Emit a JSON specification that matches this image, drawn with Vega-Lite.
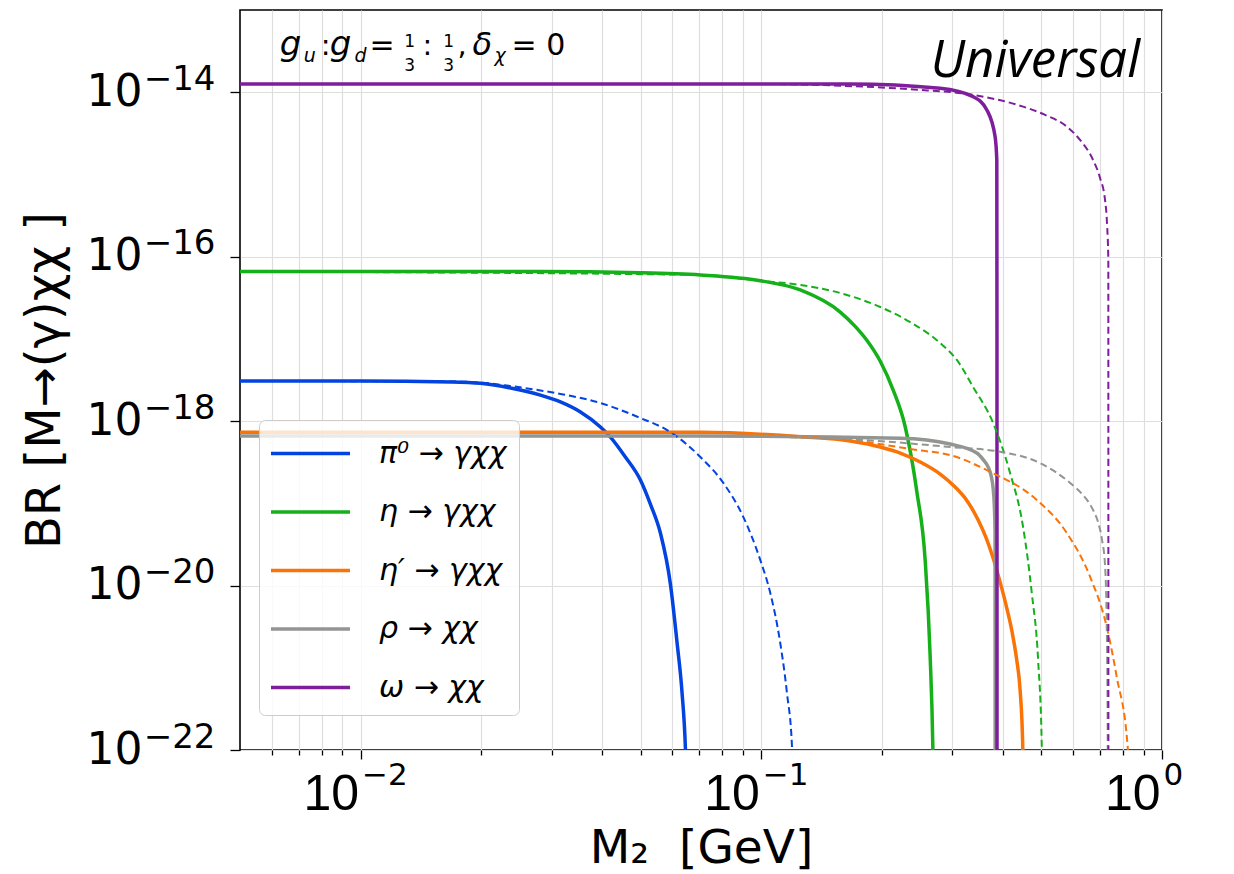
{
 "$schema": "https://vega.github.io/schema/vega-lite/v6.json",
 "width": 922, "height": 740,
 "autosize": {"type": "none"},
 "padding": {"left": 240, "top": 10, "right": 72, "bottom": 124},
 "background": "white",
 "config": {"view": {"stroke": "black", "strokeWidth": 1.6}},
 "resolve": {"axis": {"x": "independent", "y": "independent"}},
 "data": {"values": [
  {"s":"π⁰ → γχχ","d":"solid","M":0.005,"BR":3.08e-18},
  {"s":"π⁰ → γχχ","d":"solid","M":0.01,"BR":3.08e-18},
  {"s":"π⁰ → γχχ","d":"solid","M":0.0168,"BR":2.99e-18},
  {"s":"π⁰ → γχχ","d":"solid","M":0.01992,"BR":2.88e-18},
  {"s":"π⁰ → γχχ","d":"solid","M":0.02366,"BR":2.53e-18},
  {"s":"π⁰ → γχχ","d":"solid","M":0.0281,"BR":2.07e-18},
  {"s":"π⁰ → γχχ","d":"solid","M":0.03153,"BR":1.71e-18},
  {"s":"π⁰ → γχχ","d":"solid","M":0.03537,"BR":1.29e-18},
  {"s":"π⁰ → γχχ","d":"solid","M":0.03967,"BR":8.48e-19},
  {"s":"π⁰ → γχχ","d":"solid","M":0.04202,"BR":6.4e-19},
  {"s":"π⁰ → γχχ","d":"solid","M":0.04579,"BR":3.66e-19},
  {"s":"π⁰ → γχχ","d":"solid","M":0.04992,"BR":1.92e-19},
  {"s":"π⁰ → γχχ","d":"solid","M":0.05286,"BR":9.8e-20},
  {"s":"π⁰ → γχχ","d":"solid","M":0.056,"BR":4.36e-20},
  {"s":"π⁰ → γχχ","d":"solid","M":0.05932,"BR":1.04e-20},
  {"s":"π⁰ → γχχ","d":"solid","M":0.06164,"BR":2.0e-21},
  {"s":"π⁰ → γχχ","d":"solid","M":0.06343,"BR":4.9e-22},
  {"s":"π⁰ → γχχ","d":"solid","M":0.06465,"BR":1.05e-22},
  {"s":"π⁰ → γχχ","d":"solid","M":0.0655,"BR":1e-23},
  {"s":"π⁰ → γχχ","d":"dashed","M":0.005,"BR":3.08e-18},
  {"s":"π⁰ → γχχ","d":"dashed","M":0.0168,"BR":3.03e-18},
  {"s":"π⁰ → γχχ","d":"dashed","M":0.01992,"BR":2.94e-18},
  {"s":"π⁰ → γχχ","d":"dashed","M":0.02366,"BR":2.67e-18},
  {"s":"π⁰ → γχχ","d":"dashed","M":0.0281,"BR":2.36e-18},
  {"s":"π⁰ → γχχ","d":"dashed","M":0.03153,"BR":2.14e-18},
  {"s":"π⁰ → γχχ","d":"dashed","M":0.03967,"BR":1.66e-18},
  {"s":"π⁰ → γχχ","d":"dashed","M":0.04992,"BR":1.09e-18},
  {"s":"π⁰ → γχχ","d":"dashed","M":0.05932,"BR":7.36e-19},
  {"s":"π⁰ → γχχ","d":"dashed","M":0.07046,"BR":3.66e-19},
  {"s":"π⁰ → γχχ","d":"dashed","M":0.0804,"BR":1.77e-19},
  {"s":"π⁰ → γχχ","d":"dashed","M":0.0902,"BR":6.81e-20},
  {"s":"π⁰ → γχχ","d":"dashed","M":0.09943,"BR":2.04e-20},
  {"s":"π⁰ → γχχ","d":"dashed","M":0.1053,"BR":8.1e-21},
  {"s":"π⁰ → γχχ","d":"dashed","M":0.1115,"BR":2.0e-21},
  {"s":"π⁰ → γχχ","d":"dashed","M":0.1159,"BR":4.9e-22},
  {"s":"π⁰ → γχχ","d":"dashed","M":0.1193,"BR":1.08e-22},
  {"s":"π⁰ → γχχ","d":"dashed","M":0.1205,"BR":1e-23},
  {"s":"η → γχχ","d":"solid","M":0.005,"BR":6.58e-17},
  {"s":"η → γχχ","d":"solid","M":0.028,"BR":6.58e-17},
  {"s":"η → γχχ","d":"solid","M":0.0499,"BR":6.38e-17},
  {"s":"η → γχχ","d":"solid","M":0.0705,"BR":6.0e-17},
  {"s":"η → γχχ","d":"solid","M":0.0994,"BR":5.1e-17},
  {"s":"η → γχχ","d":"solid","M":0.1251,"BR":3.94e-17},
  {"s":"η → γχχ","d":"solid","M":0.1574,"BR":2.12e-17},
  {"s":"η → γχχ","d":"solid","M":0.1715,"BR":1.42e-17},
  {"s":"η → γχχ","d":"solid","M":0.1834,"BR":9.62e-18},
  {"s":"η → γχχ","d":"solid","M":0.1981,"BR":5.34e-18},
  {"s":"η → γχχ","d":"solid","M":0.2135,"BR":2.37e-18},
  {"s":"η → γχχ","d":"solid","M":0.2287,"BR":8.48e-19},
  {"s":"η → γχχ","d":"solid","M":0.2445,"BR":1.37e-19},
  {"s":"η → γχχ","d":"solid","M":0.2564,"BR":2.04e-20},
  {"s":"η → γχχ","d":"solid","M":0.2638,"BR":1.43e-21},
  {"s":"η → γχχ","d":"solid","M":0.268,"BR":1.08e-22},
  {"s":"η → γχχ","d":"solid","M":0.27,"BR":1e-23},
  {"s":"η → γχχ","d":"dashed","M":0.005,"BR":6.58e-17},
  {"s":"η → γχχ","d":"dashed","M":0.0705,"BR":6.0e-17},
  {"s":"η → γχχ","d":"dashed","M":0.0994,"BR":5.1e-17},
  {"s":"η → γχχ","d":"dashed","M":0.1251,"BR":4.53e-17},
  {"s":"η → γχχ","d":"dashed","M":0.1574,"BR":3.61e-17},
  {"s":"η → γχχ","d":"dashed","M":0.1981,"BR":2.44e-17},
  {"s":"η → γχχ","d":"dashed","M":0.2353,"BR":1.6e-17},
  {"s":"η → γχχ","d":"dashed","M":0.2795,"BR":8.89e-18},
  {"s":"η → γχχ","d":"dashed","M":0.3076,"BR":5.54e-18},
  {"s":"η → γχχ","d":"dashed","M":0.3378,"BR":2.6e-18},
  {"s":"η → γχχ","d":"dashed","M":0.3789,"BR":9.48e-19},
  {"s":"η → γχχ","d":"dashed","M":0.4177,"BR":2.34e-19},
  {"s":"η → γχχ","d":"dashed","M":0.4501,"BR":5.15e-20},
  {"s":"η → γχχ","d":"dashed","M":0.4732,"BR":8.1e-21},
  {"s":"η → γχχ","d":"dashed","M":0.4907,"BR":1.24e-21},
  {"s":"η → γχχ","d":"dashed","M":0.5012,"BR":1.08e-22},
  {"s":"η → γχχ","d":"dashed","M":0.505,"BR":1e-23},
  {"s":"η′ → γχχ","d":"solid","M":0.005,"BR":7.3e-19},
  {"s":"η′ → γχχ","d":"solid","M":0.0705,"BR":7.3e-19},
  {"s":"η′ → γχχ","d":"solid","M":0.1251,"BR":6.46e-19},
  {"s":"η′ → γχχ","d":"solid","M":0.1667,"BR":5.73e-19},
  {"s":"η′ → γχχ","d":"solid","M":0.1981,"BR":4.84e-19},
  {"s":"η′ → γχχ","d":"solid","M":0.2222,"BR":4.09e-19},
  {"s":"η′ → γχχ","d":"solid","M":0.2493,"BR":3.18e-19},
  {"s":"η′ → γχχ","d":"solid","M":0.2795,"BR":2.27e-19},
  {"s":"η′ → γχχ","d":"solid","M":0.3046,"BR":1.58e-19},
  {"s":"η′ → γχχ","d":"solid","M":0.3264,"BR":1.07e-19},
  {"s":"η′ → γχχ","d":"solid","M":0.3477,"BR":6.26e-20},
  {"s":"η′ → γχχ","d":"solid","M":0.364,"BR":3.79e-20},
  {"s":"η′ → γχχ","d":"solid","M":0.3789,"BR":2.16e-20},
  {"s":"η′ → γχχ","d":"solid","M":0.3944,"BR":1.1e-20},
  {"s":"η′ → γχχ","d":"solid","M":0.4099,"BR":5.32e-21},
  {"s":"η′ → γχχ","d":"solid","M":0.4226,"BR":2.72e-21},
  {"s":"η′ → γχχ","d":"solid","M":0.434,"BR":1.24e-21},
  {"s":"η′ → γχχ","d":"solid","M":0.4425,"BR":5.35e-22},
  {"s":"η′ → γχχ","d":"solid","M":0.4493,"BR":1.08e-22},
  {"s":"η′ → γχχ","d":"solid","M":0.452,"BR":1e-23},
  {"s":"η′ → γχχ","d":"dashed","M":0.005,"BR":7.3e-19},
  {"s":"η′ → γχχ","d":"dashed","M":0.0705,"BR":7.3e-19},
  {"s":"η′ → γχχ","d":"dashed","M":0.1251,"BR":6.5e-19},
  {"s":"η′ → γχχ","d":"dashed","M":0.1667,"BR":5.89e-19},
  {"s":"η′ → γχχ","d":"dashed","M":0.2445,"BR":4.45e-19},
  {"s":"η′ → γχχ","d":"dashed","M":0.296,"BR":3.86e-19},
  {"s":"η′ → γχχ","d":"dashed","M":0.3725,"BR":2.42e-19},
  {"s":"η′ → γχχ","d":"dashed","M":0.4869,"BR":1.1e-19},
  {"s":"η′ → γχχ","d":"dashed","M":0.5786,"BR":4.36e-20},
  {"s":"η′ → γχχ","d":"dashed","M":0.6614,"BR":1.28e-20},
  {"s":"η′ → γχχ","d":"dashed","M":0.7279,"BR":3.15e-21},
  {"s":"η′ → γχχ","d":"dashed","M":0.7709,"BR":7.76e-22},
  {"s":"η′ → γχχ","d":"dashed","M":0.8212,"BR":1.08e-22},
  {"s":"η′ → γχχ","d":"dashed","M":0.83,"BR":1e-23},
  {"s":"ρ → χχ","d":"solid","M":0.005,"BR":6.59e-19},
  {"s":"ρ → χχ","d":"solid","M":0.0705,"BR":6.59e-19},
  {"s":"ρ → χχ","d":"solid","M":0.2222,"BR":6.18e-19},
  {"s":"ρ → χχ","d":"solid","M":0.296,"BR":5.26e-19},
  {"s":"ρ → χχ","d":"solid","M":0.3451,"BR":4.09e-19},
  {"s":"ρ → χχ","d":"solid","M":0.3578,"BR":3.4e-19},
  {"s":"ρ → χχ","d":"solid","M":0.3683,"BR":2.76e-19},
  {"s":"ρ → χχ","d":"solid","M":0.3747,"BR":2.15e-19},
  {"s":"ρ → χχ","d":"solid","M":0.3789,"BR":1.53e-19},
  {"s":"ρ → χχ","d":"solid","M":0.3815,"BR":9.5e-20},
  {"s":"ρ → χχ","d":"solid","M":0.3832,"BR":4.36e-20},
  {"s":"ρ → χχ","d":"solid","M":0.3834,"BR":1e-22},
  {"s":"ρ → χχ","d":"solid","M":0.3835,"BR":1e-23},
  {"s":"ρ → χχ","d":"dashed","M":0.005,"BR":6.59e-19},
  {"s":"ρ → χχ","d":"dashed","M":0.0705,"BR":6.59e-19},
  {"s":"ρ → χχ","d":"dashed","M":0.1667,"BR":6.0e-19},
  {"s":"ρ → χχ","d":"dashed","M":0.296,"BR":4.84e-19},
  {"s":"ρ → χχ","d":"dashed","M":0.3944,"BR":4.24e-19},
  {"s":"ρ → χχ","d":"dashed","M":0.4963,"BR":3.09e-19},
  {"s":"ρ → χχ","d":"dashed","M":0.5898,"BR":1.77e-19},
  {"s":"ρ → χχ","d":"dashed","M":0.6317,"BR":1.3e-19},
  {"s":"ρ → χχ","d":"dashed","M":0.6691,"BR":8.75e-20},
  {"s":"ρ → χχ","d":"dashed","M":0.6925,"BR":5.91e-20},
  {"s":"ρ → χχ","d":"dashed","M":0.7087,"BR":3.57e-20},
  {"s":"ρ → χχ","d":"dashed","M":0.7208,"BR":1.77e-20},
  {"s":"ρ → χχ","d":"dashed","M":0.7279,"BR":3.3e-21},
  {"s":"ρ → χχ","d":"dashed","M":0.7321,"BR":1.08e-22},
  {"s":"ρ → χχ","d":"dashed","M":0.733,"BR":1e-23},
  {"s":"ω → χχ","d":"solid","M":0.005,"BR":1.262e-14},
  {"s":"ω → χχ","d":"solid","M":0.1667,"BR":1.262e-14},
  {"s":"ω → χχ","d":"solid","M":0.2795,"BR":1.12e-14},
  {"s":"ω → χχ","d":"solid","M":0.3378,"BR":8.83e-15},
  {"s":"ω → χχ","d":"solid","M":0.3655,"BR":6.09e-15},
  {"s":"ω → χχ","d":"solid","M":0.3832,"BR":2.89e-15},
  {"s":"ω → χχ","d":"solid","M":0.387,"BR":1.5e-15},
  {"s":"ω → χχ","d":"solid","M":0.3874,"BR":1e-17},
  {"s":"ω → χχ","d":"solid","M":0.3875,"BR":1e-22},
  {"s":"ω → χχ","d":"solid","M":0.3876,"BR":1e-23},
  {"s":"ω → χχ","d":"dashed","M":0.005,"BR":1.262e-14},
  {"s":"ω → χχ","d":"dashed","M":0.0994,"BR":1.26e-14},
  {"s":"ω → χχ","d":"dashed","M":0.1574,"BR":1.2e-14},
  {"s":"ω → χχ","d":"dashed","M":0.24,"BR":1.08e-14},
  {"s":"ω → χχ","d":"dashed","M":0.3378,"BR":9.27e-15},
  {"s":"ω → χχ","d":"dashed","M":0.4501,"BR":6.68e-15},
  {"s":"ω → χχ","d":"dashed","M":0.5108,"BR":5.3e-15},
  {"s":"ω → χχ","d":"dashed","M":0.5786,"BR":3.82e-15},
  {"s":"ω → χχ","d":"dashed","M":0.6244,"BR":2.63e-15},
  {"s":"ω → χχ","d":"dashed","M":0.673,"BR":1.5e-15},
  {"s":"ω → χχ","d":"dashed","M":0.7004,"BR":9.08e-16},
  {"s":"ω → χχ","d":"dashed","M":0.7208,"BR":4.9e-16},
  {"s":"ω → χχ","d":"dashed","M":0.7294,"BR":2.43e-16},
  {"s":"ω → χχ","d":"dashed","M":0.7346,"BR":9.1e-17},
  {"s":"ω → χχ","d":"dashed","M":0.7349,"BR":1e-22},
  {"s":"ω → χχ","d":"dashed","M":0.735,"BR":1e-23}
 ]},
 "layer": [
  {
   "transform": [{"filter": "datum.d === 'solid'"}],
   "mark": {"type": "line", "strokeWidth": 3.5, "clip": true, "interpolate": "monotone"},
   "encoding": {
    "x": {"field": "M", "type": "quantitative", "scale": {"type": "log", "domain": [0.005, 1], "nice": false},
     "axis": {
      "orient": "bottom",
      "title": "M₂\u00a0\u00a0[GeV]",
      "values": [0.006, 0.007, 0.008, 0.009, 0.01, 0.02, 0.03, 0.04, 0.05, 0.06, 0.07, 0.08, 0.09, 0.1, 0.2, 0.3, 0.4, 0.5, 0.6, 0.7, 0.8, 0.9, 1],
      "labelExpr": "(datum.value == 0.01 || datum.value == 0.1 || datum.value == 1) ? '10' : ''",
      "tickSize": {"condition": {"test": "datum.value == 0.01 || datum.value == 0.1 || datum.value == 1", "value": 9}, "value": 5},
      "grid": true, "gridColor": "#dedede", "gridWidth": 1.2,
      "tickColor": "black", "tickWidth": 1.3, "domain": false,
      "labelFont": "Liberation Sans", "labelFontSize": 50, "labelColor": "black", "labelAlign": "right", "labelOffset": -2, "labelPadding": 10, "labelFlush": false, "labelOverlap": false, "labelBound": false,
      "titleFont": "DejaVu Sans", "titleFontSize": 47, "titleFontWeight": "normal", "titleColor": "black", "titleY": 75, "titleBaseline": "top"
     }},
    "y": {"field": "BR", "type": "quantitative", "scale": {"type": "log", "domain": [1e-22, 1e-13], "nice": false},
     "axis": {
      "orient": "left",
      "title": "BR [M→(γ)χχ ]",
      "values": [1e-22, 1e-20, 1e-18, 1e-16, 1e-14],
      "labelExpr": "'10'",
      "grid": true, "gridColor": "#dedede", "gridWidth": 1.2,
      "tickSize": 10, "tickColor": "black", "tickWidth": 1.3, "domain": false,
      "labelFont": "DejaVu Sans", "labelFontSize": 44, "labelColor": "black", "labelPadding": 88, "labelFlush": false, "labelOverlap": false, "labelBaseline": "middle",
      "titleFont": "DejaVu Sans", "titleFontSize": 48, "titleFontWeight": "normal", "titleColor": "black", "titleX": -171
     }},
    "color": {"field": "s", "type": "nominal", "scale": {"domain": ["π⁰ → γχχ", "η → γχχ", "η′ → γχχ", "ρ → χχ", "ω → χχ"], "range": ["#0343df", "#15b01a", "#f97306", "#929591", "#7e1e9c"]},
     "legend": {
      "title": null, "orient": "none", "legendX": 19, "legendY": 410,
      "symbolType": "M-2,0H2", "symbolSize": 1560, "symbolStrokeWidth": 3.5, "symbolOffset": 18,
      "labelFont": "DejaVu Sans", "labelFontStyle": "italic", "labelFontSize": 30, "labelColor": "black", "labelOffset": 47,
      "rowPadding": 21.5, "padding": 12,
      "fillColor": "rgba(255,255,255,0.8)", "strokeColor": "#cccccc", "cornerRadius": 6
     }}
   }
  },
  {
   "transform": [{"filter": "datum.d === 'dashed'"}],
   "mark": {"type": "line", "strokeWidth": 2, "strokeDash": [7, 4], "clip": true, "interpolate": "monotone"},
   "encoding": {
    "x": {"field": "M", "type": "quantitative", "scale": {"type": "log", "domain": [0.005, 1], "nice": false},
     "axis": {
      "orient": "bottom", "title": null,
      "values": [0.01, 0.1, 1],
      "labelExpr": "datum.value < 0.05 ? '−2' : datum.value < 0.5 ? '−1' : '0'",
      "grid": false, "domain": false, "tickSize": 9, "tickOpacity": 0,
      "labelFont": "DejaVu Sans", "labelFontSize": 31, "labelColor": "black", "labelAlign": "left", "labelOffset": 1, "labelPadding": 1.5, "labelFlush": false, "labelOverlap": false, "labelBound": false
     }},
    "y": {"field": "BR", "type": "quantitative", "scale": {"type": "log", "domain": [1e-22, 1e-13], "nice": false},
     "axis": {
      "orient": "left", "title": null,
      "values": [1e-22, 1e-20, 1e-18, 1e-16, 1e-14],
      "labelExpr": "datum.value < 1e-21 ? '−22' : datum.value < 1e-19 ? '−20' : datum.value < 1e-17 ? '−18' : datum.value < 1e-15 ? '−16' : '−14'",
      "grid": false, "domain": false, "tickSize": 10, "tickOpacity": 0,
      "labelFont": "DejaVu Sans", "labelFontSize": 34, "labelColor": "black", "labelPadding": 15, "labelOffset": -13, "labelBaseline": "middle", "labelFlush": false, "labelOverlap": false
     }},
    "color": {"field": "s", "type": "nominal", "scale": {"domain": ["π⁰ → γχχ", "η → γχχ", "η′ → γχχ", "ρ → χχ", "ω → χχ"], "range": ["#0343df", "#15b01a", "#f97306", "#929591", "#7e1e9c"]}, "legend": null}
   }
  },
  {"data": {"values": [{}]}, "mark": {"type": "text", "text": "g", "align": "left", "baseline": "alphabetic", "font": "DejaVu Sans", "fontStyle": "italic", "fontSize": 34, "color": "black"},
   "encoding": {"x": {"datum": 0.006281, "type": "quantitative", "axis": null}, "y": {"datum": 2.843e-14, "type": "quantitative", "axis": null}}},
  {"data": {"values": [{}]}, "mark": {"type": "text", "text": "u", "align": "left", "baseline": "alphabetic", "dy": 7, "font": "DejaVu Sans", "fontStyle": "italic", "fontSize": 19, "color": "black"},
   "encoding": {"x": {"datum": 0.007208, "type": "quantitative", "axis": null}, "y": {"datum": 2.843e-14, "type": "quantitative", "axis": null}}},
  {"data": {"values": [{}]}, "mark": {"type": "text", "text": ":", "align": "left", "baseline": "alphabetic", "font": "DejaVu Sans", "fontSize": 29, "color": "black"},
   "encoding": {"x": {"datum": 0.00795, "type": "quantitative", "axis": null}, "y": {"datum": 2.843e-14, "type": "quantitative", "axis": null}}},
  {"data": {"values": [{}]}, "mark": {"type": "text", "text": "g", "align": "left", "baseline": "alphabetic", "font": "DejaVu Sans", "fontStyle": "italic", "fontSize": 34, "color": "black"},
   "encoding": {"x": {"datum": 0.00837, "type": "quantitative", "axis": null}, "y": {"datum": 2.843e-14, "type": "quantitative", "axis": null}}},
  {"data": {"values": [{}]}, "mark": {"type": "text", "text": "d", "align": "left", "baseline": "alphabetic", "dy": 7, "font": "DejaVu Sans", "fontStyle": "italic", "fontSize": 19, "color": "black"},
   "encoding": {"x": {"datum": 0.009661, "type": "quantitative", "axis": null}, "y": {"datum": 2.843e-14, "type": "quantitative", "axis": null}}},
  {"data": {"values": [{}]}, "mark": {"type": "text", "text": "=", "align": "left", "baseline": "alphabetic", "font": "DejaVu Sans", "fontSize": 30, "color": "black"},
   "encoding": {"x": {"datum": 0.01053, "type": "quantitative", "axis": null}, "y": {"datum": 2.843e-14, "type": "quantitative", "axis": null}}},
  {"data": {"values": [{}]}, "mark": {"type": "text", "text": "1", "align": "center", "baseline": "alphabetic", "dy": -8, "font": "DejaVu Sans", "fontSize": 17, "color": "black"},
   "encoding": {"x": {"datum": 0.013248, "type": "quantitative", "axis": null}, "y": {"datum": 2.843e-14, "type": "quantitative", "axis": null}}},
  {"data": {"values": [{}]}, "mark": {"type": "text", "text": "3", "align": "center", "baseline": "alphabetic", "dy": 16, "font": "DejaVu Sans", "fontSize": 17, "color": "black"},
   "encoding": {"x": {"datum": 0.013248, "type": "quantitative", "axis": null}, "y": {"datum": 2.843e-14, "type": "quantitative", "axis": null}}},
  {"data": {"values": [{}]}, "mark": {"type": "text", "text": ":", "align": "left", "baseline": "alphabetic", "font": "DejaVu Sans", "fontSize": 29, "color": "black"},
   "encoding": {"x": {"datum": 0.014275, "type": "quantitative", "axis": null}, "y": {"datum": 2.843e-14, "type": "quantitative", "axis": null}}},
  {"data": {"values": [{}]}, "mark": {"type": "text", "text": "1", "align": "center", "baseline": "alphabetic", "dy": -8, "font": "DejaVu Sans", "fontSize": 17, "color": "black"},
   "encoding": {"x": {"datum": 0.016577, "type": "quantitative", "axis": null}, "y": {"datum": 2.843e-14, "type": "quantitative", "axis": null}}},
  {"data": {"values": [{}]}, "mark": {"type": "text", "text": "3", "align": "center", "baseline": "alphabetic", "dy": 16, "font": "DejaVu Sans", "fontSize": 17, "color": "black"},
   "encoding": {"x": {"datum": 0.016577, "type": "quantitative", "axis": null}, "y": {"datum": 2.843e-14, "type": "quantitative", "axis": null}}},
  {"data": {"values": [{}]}, "mark": {"type": "text", "text": ",", "align": "left", "baseline": "alphabetic", "font": "DejaVu Sans", "fontSize": 29, "color": "black"},
   "encoding": {"x": {"datum": 0.017455, "type": "quantitative", "axis": null}, "y": {"datum": 2.843e-14, "type": "quantitative", "axis": null}}},
  {"data": {"values": [{}]}, "mark": {"type": "text", "text": "δ", "align": "left", "baseline": "alphabetic", "font": "DejaVu Sans", "fontStyle": "italic", "fontSize": 32, "color": "black"},
   "encoding": {"x": {"datum": 0.01903, "type": "quantitative", "axis": null}, "y": {"datum": 2.843e-14, "type": "quantitative", "axis": null}}},
  {"data": {"values": [{}]}, "mark": {"type": "text", "text": "χ", "align": "left", "baseline": "alphabetic", "dy": 7, "font": "DejaVu Sans", "fontStyle": "italic", "fontSize": 19, "color": "black"},
   "encoding": {"x": {"datum": 0.021594, "type": "quantitative", "axis": null}, "y": {"datum": 2.843e-14, "type": "quantitative", "axis": null}}},
  {"data": {"values": [{}]}, "mark": {"type": "text", "text": "= 0", "align": "left", "baseline": "alphabetic", "font": "DejaVu Sans", "fontSize": 30, "color": "black"},
   "encoding": {"x": {"datum": 0.023806, "type": "quantitative", "axis": null}, "y": {"datum": 2.843e-14, "type": "quantitative", "axis": null}}},
  {"data": {"values": [{}]}, "mark": {"type": "text", "text": "Universal", "align": "right", "baseline": "alphabetic", "font": "Open Sans", "fontStyle": "italic", "fontSize": 51, "color": "black"},
   "encoding": {"x": {"datum": 0.8813, "type": "quantitative", "axis": null}, "y": {"datum": 1.535e-14, "type": "quantitative", "axis": null}}}
 ]
}
